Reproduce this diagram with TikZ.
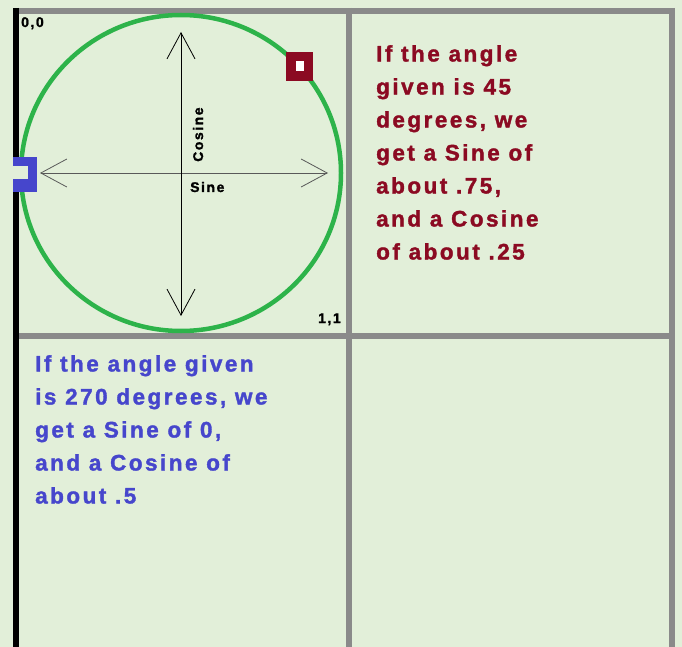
\documentclass[tikz,border=0pt]{standalone}
\usepackage{fontspec}
\setmainfont{Liberation Sans}[LetterSpace=11, BoldFeatures={FakeBold=1.5}]
\usepackage{tikz}
\usetikzlibrary{arrows.meta}
\definecolor{cbg}{HTML}{E2EFD9}
\definecolor{cgrid}{HTML}{8A8A8A}
\definecolor{cring}{HTML}{2DB34A}
\definecolor{cred}{HTML}{8B0A22}
\definecolor{cblue}{HTML}{4646CC}
\tikzset{
  gridline/.style={draw=cgrid, line width=5.5pt},
  axis/.style={{Straight Barb[length=26pt,width=28pt]}-{Straight Barb[length=26pt,width=28pt]}, line width=0.8pt},
  tag/.style={font=\fontsize{14}{16}\selectfont\bfseries, inner sep=0pt, anchor=base west},
  note/.style={font=\fontsize{22.5}{33}\selectfont\bfseries, align=left, inner sep=0pt, anchor=north west},
}

\begin{document}
\begin{tikzpicture}[x=1pt,y=-1pt]
\fill[cbg] (0,0) rectangle (682,647);
\useasboundingbox (0,0) rectangle (682,647);
% the grid of four cells
\draw[gridline] (13,11) -- (675,11);
\draw[gridline] (672,8) -- (672,647);
\draw[gridline] (349,8) -- (349,647);
\draw[gridline] (19,336) -- (675,336);
\draw[line width=6pt] (16,8) -- (16,647);
% unit circle and its axes
\draw[draw=cring, line width=4.5pt] (181,173) ellipse [x radius=160, y radius=158];
\coordinate (west) at (40,173);
\coordinate (east) at (328,173);
\coordinate (north) at (181,32);
\coordinate (south) at (181,316);
\draw[axis, draw=black!65] (west) -- (east);
\draw[axis] (north) -- (south);
\node[tag] (origin) at (21,27) {0,0};
\node[tag] (corner) at (318,323) {1,1};
\node[tag] (sine) at (190,192) {Sine};
\node[tag, rotate=90] (cosine) at (203,162) {Cosine};
% the two markers
\node[draw=cred, fill=white, line width=9.5pt, minimum width=17.5pt, minimum height=19.5pt, inner sep=0pt] (mark45) at (299.5,66.5) {};
\fill[cblue] (13,157) rectangle (37,192);
\fill[cbg] (13,166) rectangle (28,179);
% the notes
\node[note, text=cred] (note45) at (376,45) {If the angle\\given is 45\\degrees, we\\get a Sine of\\about .75,\\and a Cosine\\of about .25};
\node[note, text=cblue] (note270) at (35,355) {If the angle given\\is 270 degrees, we\\get a Sine of 0,\\and a Cosine of\\about .5};
\end{tikzpicture}
\end{document}
